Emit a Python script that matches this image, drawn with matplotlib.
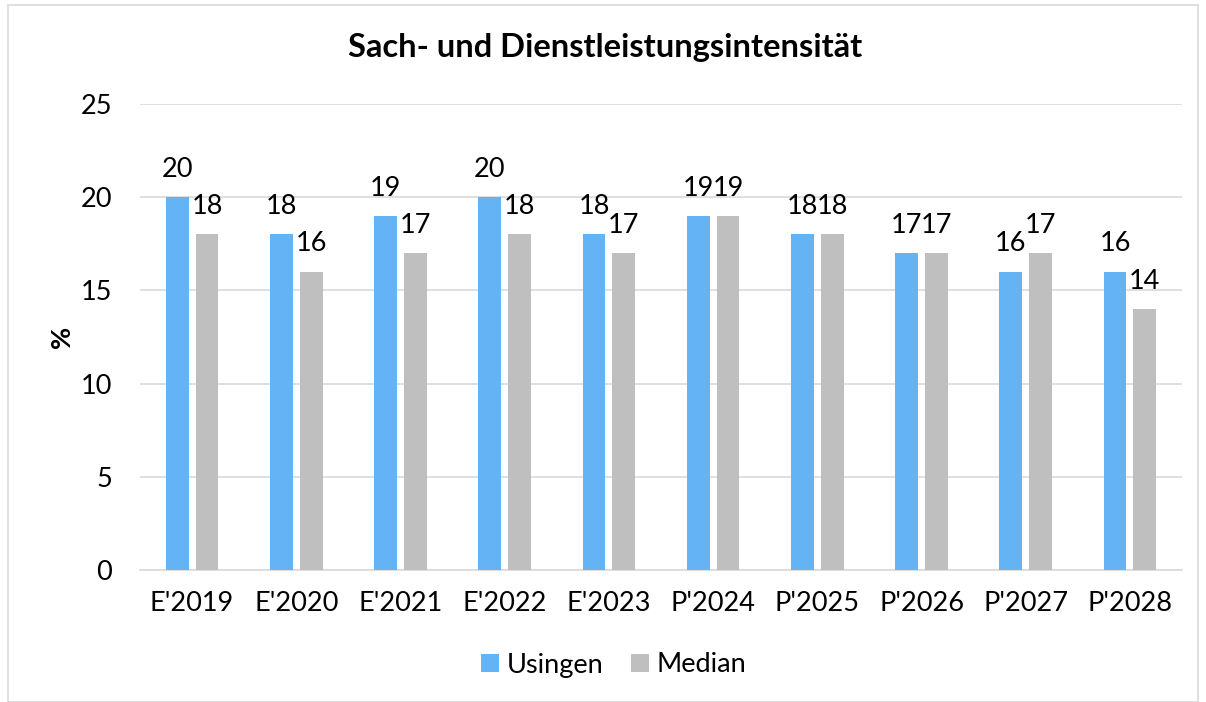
import matplotlib
matplotlib.use("Agg")
import matplotlib.pyplot as plt
import numpy as np
from matplotlib.patches import Rectangle

categories = ["E'2019", "E'2020", "E'2021", "E'2022", "E'2023",
              "P'2024", "P'2025", "P'2026", "P'2027", "P'2028"]
usingen = [20, 18, 19, 20, 18, 19, 18, 17, 16, 16]
median = [18, 16, 17, 18, 17, 19, 18, 17, 17, 14]
yticks = [0, 5, 10, 15, 20, 25]

plt.rcParams['font.family'] = ['Lato', 'DejaVu Sans']

fig = plt.figure(figsize=(12.06, 7.02), dpi=100)
ax = fig.add_axes([140/1206, 1-570/702, 1042/1206, 466/702])

x = np.arange(len(categories))
w = 0.22
off = 0.143
c1 = '#63B3F5'
c2 = '#BFBFBF'
fs = 19.5
b1 = ax.bar(x - off, usingen, w, color=c1, label='Usingen', zorder=3)
b2 = ax.bar(x + off, median, w, color=c2, label='Median', zorder=3)

for bars, vals in ((b1, usingen), (b2, median)):
    for r, v in zip(bars, vals):
        ax.annotate(str(v), (r.get_x() + r.get_width()/2, v), xytext=(0, 11),
                    textcoords='offset points', ha='center', va='bottom',
                    fontsize=fs, color='#000000')

ax.set_xlim(-0.5, len(categories) - 0.5)
ax.set_ylim(0, 25)
ax.set_yticks(yticks)
ax.set_yticklabels([str(t) for t in yticks], fontsize=fs)
ax.set_xticks(x)
ax.set_xticklabels(categories, fontsize=fs)
ax.tick_params(axis='y', length=0, pad=20)
ax.tick_params(axis='x', length=0, pad=15)
ax.yaxis.grid(True, color='#D9D9D9', linewidth=1.2, zorder=0)
for s in ['top', 'right', 'left']:
    ax.spines[s].set_visible(False)
ax.spines['bottom'].set_color('#D9D9D9')
ax.spines['bottom'].set_linewidth(1.2)
ax.set_axisbelow(True)

ax.set_ylabel('%', fontsize=fs, fontweight='bold', labelpad=5)

fig.text(605/1206, 1-48/702, 'Sach- und Dienstleistungsintensität', ha='center', va='center',
         fontsize=23.5, fontweight='bold')

leg = fig.legend(handles=[b1, b2], labels=['Usingen', 'Median'], loc='center',
                 bbox_to_anchor=(614/1206, 1-665/702), ncol=2, frameon=False,
                 fontsize=fs, handlelength=0.65, handleheight=0.65, handletextpad=0.3,
                 columnspacing=1.0)

fig.patches.append(Rectangle((8/1206, 0), 1190/1206, 1-5/702, transform=fig.transFigure,
                             fill=False, edgecolor='#D9D9D9', linewidth=1.2))

fig.savefig('out.png', dpi=100, facecolor='white')
